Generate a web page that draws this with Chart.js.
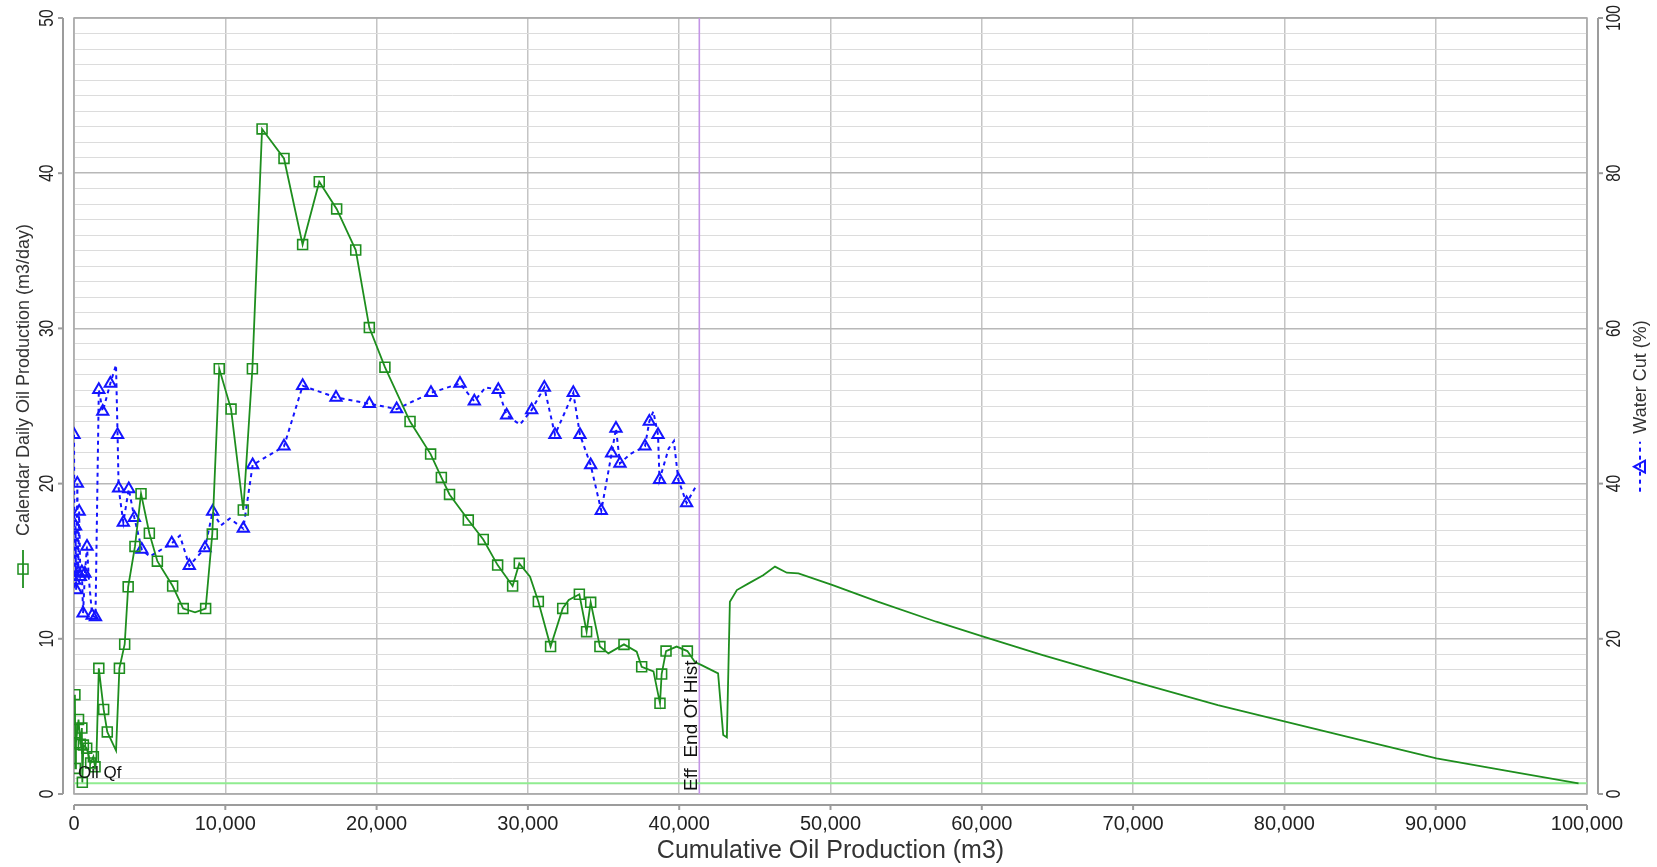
<!DOCTYPE html>
<html><head><meta charset="utf-8">
<script src="https://cdn.jsdelivr.net/npm/chart.js@4.4.1/dist/chart.umd.min.js"></script>
<style>html,body{margin:0;padding:0;background:#fff;}canvas{display:block;}</style>
</head><body>
<canvas id="c" width="1657" height="867"></canvas>
<script>
// ---------- data ----------
const xTicks = [0,10000,20000,30000,40000,50000,60000,70000,80000,90000,100000];
const yLeftTicks = [0,10,20,30,40,50];
const yRightTicks = [0,20,40,60,80,100];

const xTitle = 'Cumulative Oil Production (m3)';
const yLeftTitle = 'Calendar Daily Oil Production (m3/day)';
const yRightTitle = 'Water Cut (%)';
const limitLabel = 'Oil Qf';
const endHistLabel = 'Eff  End Of Hist';

// Calendar daily oil rate (m3/day) vs cumulative oil (m3)
const oilCum = [60,90,130,300,420,520,550,620,840,1100,1280,1390,1480,1640,1960,2200,2780,3000,3350,3580,
  4030,4430,4980,5510,6520,7220,8000,8700,9140,9600,10380,11190,11790,12430,13880,15110,16210,17360,18620,19520,
  20550,22210,23570,24280,24820,26060,27050,28000,28990,29430,30140,30690,31500,32300,32700,33400,33880,34150,34760,35320,
  36350,37190,37520,38300,38730,38840,39130,39830,40540,41040,
  41480,42570,42910,43150,43350,43810,44590,45550,46330,47110,47880,50100,53120,56990,60100,63970,70060,75600,80060,85000,90050,95000,99440];
const oilRate = [6.4,1.65,3.3,4.8,3.2,4.25,0.75,3.15,2.95,2.0,2.4,1.75,2.3,8.1,5.45,4.0,2.8,8.1,9.65,13.35,
  15.95,19.35,16.8,15.0,13.4,11.95,11.7,11.95,16.75,27.4,24.8,18.3,27.4,42.85,40.95,35.4,39.45,37.7,35.05,30.05,
  27.5,24.0,21.9,20.4,19.3,17.65,16.4,14.75,13.4,14.86,14.0,12.4,9.5,11.96,12.5,12.87,10.46,12.35,9.5,9.06,
  9.64,9.17,8.2,7.9,5.84,7.73,9.21,9.5,9.21,8.5,
  8.3,7.77,3.8,3.65,12.39,13.14,13.57,14.1,14.65,14.26,14.22,13.47,12.39,11.1,10.14,8.96,7.24,5.73,4.66,3.48,2.3,1.44,0.69];
// 1 = measured sample (drawn with a marker), 0 = intermediate / forecast vertex
const oilMeasured = [1,1,1,1,1,1,1,1,1,1,1,1,0,1,1,1,0,1,1,1,
  1,1,1,1,1,1,0,1,1,1,1,1,1,1,1,1,1,1,1,1,
  1,1,1,1,1,1,1,1,1,1,0,1,1,1,0,1,1,1,1,0,
  1,0,1,0,1,1,1,0,1,0,
  0,0,0,0,0,0,0,0,0,0,0,0,0,0,0,0,0,0,0,0,0,0,0];

// Water cut (%) vs cumulative oil (m3)
const wcCum = [0,40,100,140,220,280,340,420,520,600,720,860,980,1200,1420,1640,1900,2400,2776,2880,
  2950,3260,3620,3990,4480,5000,6460,7000,7622,8658,9164,9700,10300,11190,11808,13879,15113,17316,19519,21325,
  23594,25511,26458,27200,28044,28595,29476,30248,31085,31789,32400,33000,33441,34148,34850,35535,35821,36085,36750,37737,
  38024,38289,38600,38700,39300,39650,39940,40490,41150];
const wcPct = [46.3,27.5,34.5,26.3,40.0,28.5,36.4,28.0,28.6,23.3,28.4,31.9,27.8,23.0,22.8,52.1,49.3,52.9,55.3,46.3,
  39.4,35.0,39.3,35.6,31.5,30.6,32.3,33.3,29.4,31.7,36.4,34.6,35.5,34.2,42.4,44.8,52.6,51.1,50.3,49.6,
  51.7,52.9,50.6,52.4,52.1,48.8,47.6,49.5,52.4,46.3,49.0,51.7,46.3,42.4,36.5,43.9,47.1,42.6,43.8,44.8,
  48.0,49.3,46.3,40.5,44.5,45.5,40.5,37.5,39.8];
const wcMeasured = [1,1,1,1,1,1,1,1,1,1,1,1,0,1,1,1,1,1,0,1,
  1,1,1,1,1,0,1,0,1,1,1,0,0,1,1,1,1,1,1,1,
  1,1,1,0,1,1,0,1,1,1,0,1,1,1,1,1,1,1,0,1,
  1,0,1,1,0,0,1,1,0];

const oilLimit = 0.7;          // economic limit rate (m3/day)
const endOfHistoryCum = 41330; // effective end of history (m3)

// ---------- colours ----------
const GREEN = '#1e8e1e', BLUE = '#1414ff', LIMIT = '#90ec90', PURPLE = '#c495e6';
const FONT = '"Liberation Sans", Arial, sans-serif';

function pts(xs, ys){ return xs.map((x,i)=>({x, y: ys[i]})); }

function txt(ctx, s, x, y, o){
  ctx.save();
  ctx.translate(x, y);
  if (o.rot) ctx.rotate(o.rot);
  if (o.sx) ctx.scale(o.sx, 1);
  ctx.font = o.font; ctx.fillStyle = o.color || '#222';
  ctx.textAlign = o.align || 'center'; ctx.textBaseline = o.base || 'middle';
  ctx.fillText(s, 0, 0);
  ctx.restore();
}
function seg(ctx, x1, y1, x2, y2){ ctx.beginPath(); ctx.moveTo(x1,y1); ctx.lineTo(x2,y2); ctx.stroke(); }

const deco = {
  id: 'deco',
  beforeDatasetsDraw(chart){
    const {ctx, chartArea:a} = chart;
    ctx.save(); ctx.strokeStyle = '#a8a8a8'; ctx.lineWidth = 1.5;
    ctx.strokeRect(a.left, a.top, a.right - a.left, a.bottom - a.top); ctx.restore();
  },
  afterDraw(chart){
    const {ctx, chartArea:a, scales} = chart;
    const sx = scales.x, sy = scales.y, sy2 = scales.y2;
    ctx.save();
    ctx.strokeStyle = '#9c9c9c'; ctx.lineWidth = 2;
    // left axis
    const lx = a.left - 11;
    seg(ctx, lx, a.top, lx, a.bottom);
    yLeftTicks.forEach(v => { const p = sy.getPixelForValue(v); seg(ctx, lx - 5, p, lx, p);
      txt(ctx, String(v), lx - 16, p, {rot: -Math.PI/2, sx: 0.74, font: '21px ' + FONT}); });
    // right axis
    const rx = a.right + 11;
    seg(ctx, rx, a.top, rx, a.bottom);
    yRightTicks.forEach(v => { const p = sy2.getPixelForValue(v); seg(ctx, rx, p, rx + 5, p);
      txt(ctx, String(v), rx + 16, p, {rot: -Math.PI/2, sx: 0.74, font: '21px ' + FONT}); });
    // bottom axis
    const by = a.bottom + 11;
    seg(ctx, a.left, by, a.right, by);
    xTicks.forEach(v => { const p = sx.getPixelForValue(v); seg(ctx, p, by, p, by + 5);
      txt(ctx, v.toLocaleString('en-US'), p, by + 19, {font: '20px ' + FONT}); });
    // x title
    txt(ctx, xTitle, (a.left + a.right)/2, 851, {font: '25px ' + FONT, color: '#333'});

    // left title with legend symbol
    const cy = (a.top + a.bottom)/2;
    ctx.font = '18px ' + FONT;
    let w = ctx.measureText(yLeftTitle).width;
    let symL = 38, gap = 14, tot = symL + gap + w, start = cy + tot/2;
    ctx.save(); ctx.translate(23, start); ctx.rotate(-Math.PI/2);
    ctx.strokeStyle = GREEN; ctx.lineWidth = 1.8; seg(ctx, 0, 0, symL, 0);
    ctx.lineWidth = 1.5; ctx.strokeRect(symL/2 - 5, -5, 10, 10);
    ctx.font = '18px ' + FONT; ctx.fillStyle = '#333'; ctx.textBaseline = 'middle'; ctx.textAlign = 'left';
    ctx.fillText(yLeftTitle, symL + gap, 1);
    ctx.restore();

    // right title with legend symbol
    ctx.font = '18px ' + FONT;
    w = ctx.measureText(yRightTitle).width;
    let symR = 50, gapR = 8; tot = symR + gapR + w; start = cy + tot/2;
    ctx.save(); ctx.translate(1640, start); ctx.rotate(-Math.PI/2);
    ctx.strokeStyle = BLUE; ctx.lineWidth = 2; ctx.setLineDash([4,4]); seg(ctx, 0, 0, symR, 0); ctx.setLineDash([]);
    ctx.beginPath(); ctx.moveTo(symR/2, -6); ctx.lineTo(symR/2 + 6, 5); ctx.lineTo(symR/2 - 6, 5); ctx.closePath(); ctx.stroke();
    ctx.font = '18px ' + FONT; ctx.fillStyle = '#333'; ctx.textBaseline = 'middle'; ctx.textAlign = 'left';
    ctx.fillText(yRightTitle, symR + gapR, 1);
    ctx.restore();

    // annotation labels
    const ly = sy.getPixelForValue(oilLimit);
    txt(ctx, limitLabel, sx.getPixelForValue(0) + 4, ly - 10, {font: '17px ' + FONT, color: '#111', align: 'left'});
    const ex = sx.getPixelForValue(endOfHistoryCum);
    txt(ctx, endHistLabel, ex - 8, a.bottom - 3, {rot: -Math.PI/2, font: '19px ' + FONT, color: '#111', align: 'left'});
    ctx.restore();
  }
};

new Chart(document.getElementById('c'), {
  type: 'scatter',
  data: {
    datasets: [
      { label: 'Oil rate', data: pts(oilCum, oilRate), yAxisID: 'y', showLine: true,
        borderColor: GREEN, borderWidth: 1.8, tension: 0,
        pointStyle: 'rect', pointRadius: c => oilMeasured[c.dataIndex] ? 7 : 0,
        pointBorderColor: GREEN, pointBorderWidth: 1.6, pointBackgroundColor: 'rgba(0,0,0,0)' },
      { label: 'Water cut', data: pts(wcCum, wcPct), yAxisID: 'y2', showLine: true,
        borderColor: BLUE, borderWidth: 2, borderDash: [4,4], tension: 0,
        pointStyle: 'triangle', pointRadius: c => wcMeasured[c.dataIndex] ? 6.5 : 0,
        pointBorderColor: BLUE, pointBorderWidth: 2, pointBackgroundColor: 'rgba(0,0,0,0)' },
      { label: 'Limit', data: [{x: xTicks[0], y: oilLimit}, {x: xTicks[xTicks.length-1], y: oilLimit}], yAxisID: 'y',
        showLine: true, borderColor: LIMIT, borderWidth: 2, pointRadius: 0 },
      { label: 'End of history', data: [{x: endOfHistoryCum, y: yLeftTicks[0]}, {x: endOfHistoryCum, y: yLeftTicks[yLeftTicks.length-1]}], yAxisID: 'y',
        showLine: true, borderColor: PURPLE, borderWidth: 1.6, pointRadius: 0 }
    ]
  },
  options: {
    responsive: false, animation: false, devicePixelRatio: 1,
    events: [],
    layout: { padding: { left: 74, right: 70, top: 18, bottom: 73 } },
    plugins: { legend: { display: false }, tooltip: { enabled: false } },
    scales: {
      x: { type: 'linear', min: 0, max: 100000,
        ticks: { display: false, stepSize: 10000 },
        grid: { color: '#c4c4c4', lineWidth: 1.5, drawTicks: false },
        border: { display: false } },
      y: { type: 'linear', position: 'left', min: 0, max: 50,
        ticks: { display: false, stepSize: 1, maxTicksLimit: 100 },
        grid: { drawTicks: false,
          color: c => (c.tick && c.tick.value % 10 === 0) ? '#b8b8b8' : '#dcdcdc',
          lineWidth: c => (c.tick && c.tick.value % 10 === 0) ? 1.5 : 1 },
        border: { display: false } },
      y2: { type: 'linear', position: 'right', min: 0, max: 100,
        ticks: { display: false }, grid: { display: false, drawTicks: false }, border: { display: false } }
    }
  },
  plugins: [deco]
});
</script>
</body></html>
